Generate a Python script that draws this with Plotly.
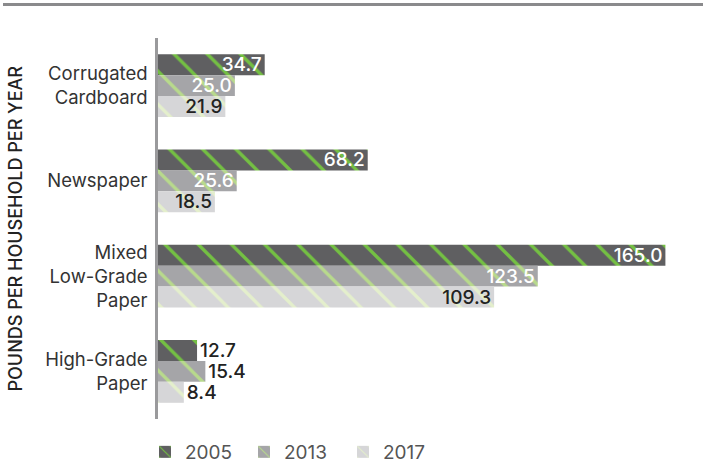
import plotly.graph_objects as go

# Paper streams, pounds per household per year
categories = ["Corrugated<br>Cardboard", "Newspaper", "Mixed<br>Low-Grade<br>Paper", "High-Grade<br>Paper"]
years = ["2005", "2013", "2017"]
values_2005 = [34.7, 68.2, 165.0, 12.7]
values_2013 = [25.0, 25.6, 123.5, 15.4]
values_2017 = [21.9, 18.5, 109.3, 8.4]

series = [values_2005, values_2013, values_2017]
bar_colors = ["#5f5f61", "#a5a5a8", "#d6d6d8"]
stripe_colors = ["#74c043", "#b8da8c", "#e4efcc"]
inside_text_colors = ["#ffffff", "#ffffff", "#222222"]

FONT = "Inter, Liberation Sans, Arial, sans-serif"

W, H = 703, 466
ML, MR, MT, MB = 158, 13, 38, 47
PW = W - ML - MR
PH = H - MT - MB

fig = go.Figure()
for name, vals, col, stripe, tcol in zip(years, series, bar_colors, stripe_colors, inside_text_colors):
    positions = ["outside" if v < 15.5 else "inside" for v in vals]
    colors = ["#222222" if p == "outside" else tcol for p in positions]
    fig.add_trace(go.Bar(
        name=name,
        y=categories,
        x=vals,
        orientation="h",
        text=[f"{v:.1f}" for v in vals],
        textposition=positions,
        insidetextanchor="end",
        textfont=dict(family=FONT, size=19, color=colors, weight=500),
        constraintext="none",
        cliponaxis=False,
        marker=dict(
            color=col,
            line=dict(width=0),
            pattern=dict(shape="\\", fgcolor=stripe, bgcolor=col, size=23.5, solidity=0.14, fillmode="replace"),
        ),
    ))

fig.update_layout(
    width=W, height=H,
    margin=dict(l=ML, r=MR, t=MT, b=MB, autoexpand=False),
    paper_bgcolor="white",
    plot_bgcolor="white",
    barmode="group",
    bargap=0.34,
    bargroupgap=0,
    font=dict(family=FONT, color="#333333"),
    xaxis=dict(range=[0, 173], visible=False, fixedrange=True),
    yaxis=dict(
        range=[3.5, -0.5],
        showline=True, linecolor="#9a9a9c", linewidth=2.5,
        showgrid=False, zeroline=False, ticks="",
        ticklabelstandoff=4,
        tickfont=dict(family=FONT, size=18.5, color="#333333"),
    ),
    legend=dict(
        orientation="h",
        xref="container", yref="container",
        x=(157 - 12) / W, xanchor="left",
        y=(H - 452) / H, yanchor="middle",
        font=dict(family=FONT, size=19, color="#555555"),
        entrywidth=54, entrywidthmode="pixels",
        itemclick=False, itemdoubleclick=False,
    ),
    shapes=[dict(
        type="line", xref="paper", yref="paper",
        x0=(3 - ML) / PW, x1=(W - ML) / PW,
        y0=(H - MB - 4.5) / PH, y1=(H - MB - 4.5) / PH,
        line=dict(color="#8a8a8c", width=3),
    )],
    annotations=[dict(
        text="POUNDS PER HOUSEHOLD PER YEAR",
        xref="paper", yref="paper",
        x=(15 - ML) / PW, y=0.5,
        xanchor="center", yanchor="middle",
        textangle=-90, showarrow=False,
        font=dict(family=FONT, size=18, color="#222222", weight=500),
    )],
)

fig.write_html("out.html")
